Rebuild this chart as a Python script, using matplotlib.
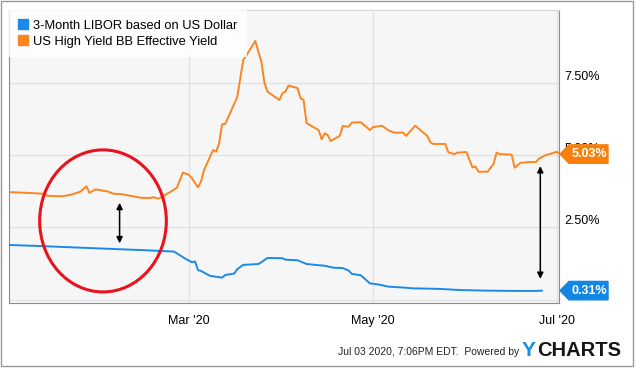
# LIBOR vs high yield chart, ycharts style
import matplotlib
matplotlib.use('Agg')
import matplotlib.pyplot as plt
import matplotlib.dates as mdates
import matplotlib.transforms as mtransforms
from matplotlib.patches import Ellipse, Polygon, Rectangle
from matplotlib.lines import Line2D
import pandas as pd

plt.rcParams['font.family'] = ['Liberation Sans', 'DejaVu Sans']

libor_dates = ['2020-01-01', '2020-01-12', '2020-01-31', '2020-02-17', '2020-02-25',
               '2020-02-26', '2020-02-29', '2020-03-02', '2020-03-03', '2020-03-04',
               '2020-03-05', '2020-03-08', '2020-03-12', '2020-03-13', '2020-03-16',
               '2020-03-17', '2020-03-19', '2020-03-24', '2020-03-25', '2020-03-27',
               '2020-04-01', '2020-04-02', '2020-04-06', '2020-04-09', '2020-04-15',
               '2020-04-18', '2020-04-21', '2020-04-23', '2020-04-24', '2020-04-27',
               '2020-04-30', '2020-05-03', '2020-05-06', '2020-05-12', '2020-05-14',
               '2020-05-23', '2020-05-30', '2020-06-08', '2020-06-17', '2020-06-24',
               '2020-06-26']
libor_values = [1.89, 1.85, 1.77, 1.70, 1.66,
                1.60, 1.40, 1.29, 1.32, 1.02,
                0.99, 0.82, 0.76, 0.85, 0.90,
                1.05, 1.20, 1.23, 1.29, 1.44,
                1.43, 1.38, 1.36, 1.23, 1.17,
                1.10, 1.09, 1.00, 0.89, 0.84,
                0.56, 0.52, 0.45, 0.41, 0.39,
                0.37, 0.33, 0.31, 0.30, 0.30,
                0.31]

hy_dates = ['2020-01-01', '2020-01-07', '2020-01-13', '2020-01-14', '2020-01-19',
            '2020-01-22', '2020-01-25', '2020-01-27', '2020-01-28', '2020-01-30',
            '2020-02-03', '2020-02-05', '2020-02-08', '2020-02-14', '2020-02-17',
            '2020-02-18', '2020-02-20', '2020-02-24', '2020-02-26', '2020-02-28',
            '2020-03-01', '2020-03-02', '2020-03-04', '2020-03-05', '2020-03-06',
            '2020-03-09', '2020-03-10', '2020-03-11', '2020-03-12', '2020-03-13',
            '2020-03-17', '2020-03-19', '2020-03-20', '2020-03-23', '2020-03-24',
            '2020-03-25', '2020-03-26', '2020-03-27', '2020-03-31', '2020-04-01',
            '2020-04-02', '2020-04-03', '2020-04-06', '2020-04-07', '2020-04-08',
            '2020-04-09', '2020-04-13', '2020-04-14', '2020-04-15', '2020-04-16',
            '2020-04-17', '2020-04-20', '2020-04-21', '2020-04-23', '2020-04-24',
            '2020-04-27', '2020-04-30', '2020-05-01', '2020-05-04', '2020-05-06',
            '2020-05-08', '2020-05-11', '2020-05-12', '2020-05-15', '2020-05-19',
            '2020-05-20', '2020-05-21', '2020-05-25', '2020-05-26', '2020-05-28',
            '2020-05-29', '2020-06-01', '2020-06-03', '2020-06-04', '2020-06-05',
            '2020-06-08', '2020-06-10', '2020-06-11', '2020-06-12', '2020-06-16',
            '2020-06-17', '2020-06-19', '2020-06-23', '2020-06-24', '2020-06-25',
            '2020-06-27', '2020-07-01', '2020-07-02']
hy_values = [3.72, 3.69, 3.66, 3.59, 3.57,
             3.63, 3.73, 3.92, 3.69, 3.81,
             3.74, 3.66, 3.64, 3.52, 3.51,
             3.54, 3.49, 3.73, 3.87, 4.39,
             4.31, 4.19, 3.88, 4.08, 4.48,
             5.17, 5.11, 5.40, 6.06, 6.07,
             7.00, 8.28, 8.43, 8.94, 8.57,
             8.23, 7.51, 7.19, 6.90, 7.13,
             7.19, 7.40, 7.31, 6.96, 6.90,
             6.10, 5.86, 5.54, 5.75, 5.69,
             5.48, 5.66, 6.00, 5.98, 6.12,
             6.13, 5.86, 5.96, 6.01, 5.86,
             5.77, 5.77, 5.66, 6.01, 5.66,
             5.44, 5.38, 5.38, 5.09, 5.03,
             5.08, 5.10, 4.57, 4.60, 4.42,
             4.42, 4.69, 5.08, 5.03, 5.01,
             4.56, 4.73, 4.76, 4.75, 4.87,
             4.98, 5.11, 5.03]

series_names = ['3-Month LIBOR based on US Dollar', 'US High Yield BB Effective Yield']
y_ticks = [0, 2.5, 5, 7.5]
y_tick_labels = ['', '2.50%', '5.00%', '7.50%']
x_ticks = ['2020-03-01', '2020-05-01', '2020-07-01']
x_tick_labels = ["Mar '20", "May '20", "Jul '20"]

BLUE = '#1a8ae6'
ORANGE = '#fb8620'


def add_tag(ax, value, color):
    # little arrow-shaped label on the right edge of the plot
    trans = mtransforms.blended_transform_factory(ax.transAxes, ax.transData)
    w = 550.0
    h = 9.2 / 28.92
    pts = [(1 + 1 / w, value), (1 + 10 / w, value + h), (1 + 49 / w, value + h),
           (1 + 49 / w, value - h), (1 + 10 / w, value - h)]
    ax.add_patch(Polygon(pts, closed=True, transform=trans, color=color,
                         clip_on=False, zorder=5))
    ax.text(1 + 30 / w, value, f'{value:.2f}%', transform=trans, color='white',
            fontsize=9, fontweight='bold', ha='center', va='center',
            clip_on=False, zorder=6)


def main():
    fig = plt.figure(figsize=(6.36, 3.68), dpi=100)
    fig.patch.set_facecolor('white')
    ax = fig.add_axes([9 / 636, 1 - 302.5 / 368, 550 / 636, 292.5 / 368])
    ax.set_facecolor('#f6f6f6')

    ld = pd.to_datetime(libor_dates)
    hd = pd.to_datetime(hy_dates)
    ax.plot(ld, libor_values, color=BLUE, lw=1.4, zorder=3)
    ax.plot(hd, hy_values, color=ORANGE, lw=1.4, zorder=3)

    x0 = mdates.date2num(pd.Timestamp('2020-01-01'))
    ax.set_xlim(x0 + 0.33, x0 + 182.7)
    ax.set_ylim(-0.1, 10.01)

    ax.set_yticks(y_ticks)
    ax.set_yticklabels(y_tick_labels)
    ax.yaxis.tick_right()
    ax.tick_params(axis='y', length=0, pad=4, labelsize=9)
    for lbl in ax.get_yticklabels():
        lbl.set_verticalalignment('bottom')

    ax.set_xticks(pd.to_datetime(x_ticks))
    ax.set_xticklabels(x_tick_labels)
    ax.tick_params(axis='x', length=0, pad=9, labelsize=9)

    ax.grid(True, color='#e2e2e2', lw=1)
    ax.set_axisbelow(True)
    for side in ['left', 'bottom', 'right']:
        ax.spines[side].set_color('#8c8c8c')
    ax.spines['top'].set_color('#d8d8d8')

    handles = [Line2D([], [], marker='s', ls='', color=BLUE, markersize=7),
               Line2D([], [], marker='s', ls='', color=ORANGE, markersize=7)]
    leg = ax.legend(handles, series_names, loc='upper left', fontsize=9.3,
                    frameon=True, borderaxespad=0, handlelength=0.6,
                    handletextpad=0.5, labelspacing=0.3, borderpad=0.75,
                    fancybox=False)
    leg.get_frame().set_facecolor('white')
    leg.get_frame().set_alpha(0.8)
    leg.get_frame().set_linewidth(0)

    add_tag(ax, hy_values[-1], '#f77f0a')
    add_tag(ax, libor_values[-1], '#1286e3')

    # red circle around the pre-crisis spread
    ax.add_patch(Ellipse((x0 + 31.5, 2.72), 42, 4.91, fill=False,
                         edgecolor='#e8131c', lw=2.2, zorder=4))

    # spread arrows
    ax.annotate('', xy=(x0 + 37, 3.44), xytext=(x0 + 37, 1.85),
                arrowprops=dict(arrowstyle='<|-|>', color='black', lw=1.1,
                                mutation_scale=9), zorder=4)
    ax.annotate('', xy=(x0 + 176.5, 4.71), xytext=(x0 + 176.5, 0.62),
                arrowprops=dict(arrowstyle='<|-|>', color='black', lw=1.1,
                                mutation_scale=9), zorder=4)

    # footer
    fig.text(519 / 636, 1 - 352 / 368, 'Jul 03 2020, 7:06PM EDT.  Powered by',
             fontsize=7.5, ha='right', va='center', color='#222222')
    fig.text(522 / 636, 1 - 351 / 368, 'Y', fontsize=15, fontweight='bold',
             color='#1a8ee3', ha='left', va='center')
    fig.text(537 / 636, 1 - 351 / 368, 'CHARTS', fontsize=14.5, fontweight='bold',
             color='#161616', ha='left', va='center')

    fig.patches.append(Rectangle((0.5 / 636, 2.5 / 368), 632 / 636, 365 / 368,
                                 transform=fig.transFigure, fill=False,
                                 edgecolor='#999999', lw=1))

    fig.savefig('out.png', dpi=100)


if __name__ == '__main__':
    main()
